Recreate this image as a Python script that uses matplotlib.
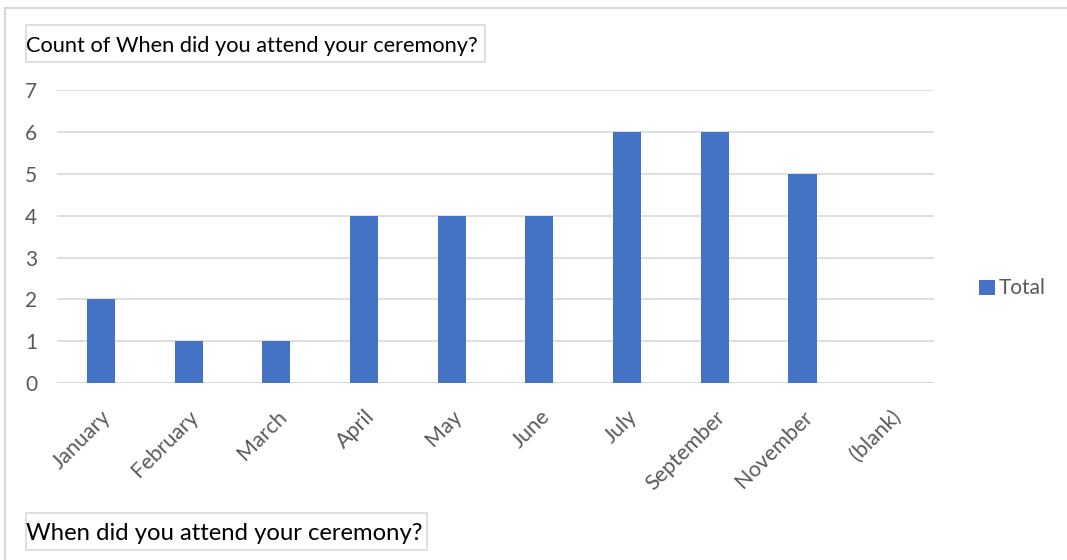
import matplotlib
matplotlib.use("Agg")
import numpy as np
from matplotlib import pyplot as plt
from matplotlib.lines import Line2D
from matplotlib.patches import Rectangle

months = ['January', 'February', 'March', 'April', 'May', 'June',
          'July', 'September', 'November', '(blank)']
totals = [2, 1, 1, 4, 4, 4, 6, 6, 5, 0]
y_ticks = [0, 1, 2, 3, 4, 5, 6, 7]

bar_color = '#4472C4'
grid_color = '#d9d9d9'
text_gray = '#595959'
plt.rcParams['font.family'] = ['Lato', 'DejaVu Sans']

fig = plt.figure(figsize=(10.67, 5.6), dpi=100)
ax = fig.add_axes([0.0534, 0.316, 0.8220, 0.523])

x = np.arange(len(months))
ax.bar(x, totals, width=0.32, color=bar_color, label='Total', zorder=3)
ax.set_xlim(-0.5, len(months) - 0.5)
ax.set_ylim(0, 7)
ax.set_yticks(y_ticks)
ax.set_yticklabels([str(v) for v in y_ticks], fontsize=15, color=text_gray)
ax.set_xticks(x)
ax.set_xticklabels(months, rotation=45, ha='right', rotation_mode='anchor',
                   fontsize=15.5, color=text_gray)
ax.tick_params(axis='both', length=0)
ax.tick_params(axis='x', pad=17)
ax.tick_params(axis='y', pad=23)
for lbl in ax.get_yticklabels():
    lbl.set_horizontalalignment('left')
ax.grid(axis='y', color=grid_color, linewidth=1.2, zorder=0)
for s in ax.spines.values():
    s.set_visible(False)
ax.axhline(0, color=grid_color, linewidth=1.2, zorder=2)

ax.legend(loc='center left', bbox_to_anchor=(1.03, 0.323), frameon=False,
          fontsize=15, handlelength=0.75, handleheight=0.75, handletextpad=0.2,
          labelcolor=text_gray)

# title and axis-title boxes
fig.add_artist(Rectangle((0.0244, 0.8893), 0.4302, 0.0661, transform=fig.transFigure,
                         facecolor='white', edgecolor=grid_color, linewidth=1.2))
fig.text(0.0245, 0.917, 'Count of When did you attend your ceremony?', fontsize=15.7,
         color='black', va='center')
fig.add_artist(Rectangle((0.0244, 0.0179), 0.3758, 0.0661, transform=fig.transFigure,
                         facecolor='white', edgecolor=grid_color, linewidth=1.2))
fig.text(0.0245, 0.047, 'When did you attend your ceremony?', fontsize=17.2,
         color='black', va='center')

# outer chart border (top and left only visible)
fig.add_artist(Line2D([0.005, 1.0], [0.986, 0.986], color=grid_color, linewidth=1.5))
fig.add_artist(Line2D([0.005, 0.005], [0.0, 0.986], color=grid_color, linewidth=1.5))

fig.savefig('out.png', dpi=100)
